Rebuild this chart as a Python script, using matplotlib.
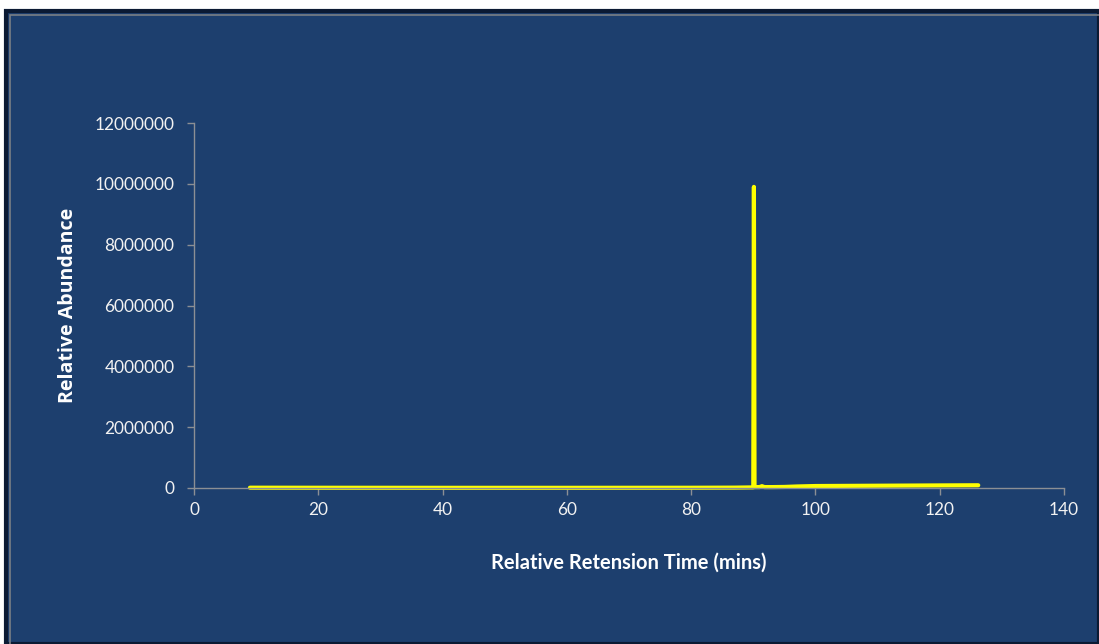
import matplotlib
matplotlib.use("Agg")
import matplotlib.pyplot as plt
from matplotlib.patches import Rectangle

# Retention time (mins) and relative abundance
retention_time = [9.0, 20.0, 40.0, 60.0, 80.0, 87.0, 90.0, 90.1, 90.2, 91.0,
                  91.4, 91.8, 93.0, 95.0, 97.0, 100.0, 105.0, 110.0, 115.0, 120.0, 126.2]
abundance = [10000, 8000, 6000, 6000, 8000, 12000, 20000, 9900000, 30000, 30000,
             60000, 30000, 30000, 35000, 50000, 65000, 70000, 75000, 80000, 85000, 90000]

x_ticks = [0, 20, 40, 60, 80, 100, 120, 140]
y_ticks = [0, 2000000, 4000000, 6000000, 8000000, 10000000, 12000000]

BG = "#1d3f6e"
W, H = 1099, 644

plt.rcParams["font.family"] = ["Lato", "DejaVu Sans"]

fig = plt.figure(figsize=(W / 100, H / 100), dpi=100, facecolor="white")

# Panel background with dark frame and thin grey inner edge
fig.patches.append(Rectangle((6 / W, 0), (W - 6) / W, (H - 11) / H,
                             transform=fig.transFigure, facecolor=BG,
                             edgecolor="#0b1a33", linewidth=3, zorder=-10))
fig.patches.append(Rectangle((10 / W, -0.01), (W - 8) / W, (H - 15) / H + 0.01,
                             transform=fig.transFigure, facecolor="none",
                             edgecolor="#7a7f86", linewidth=1.2, zorder=-9))

ax = fig.add_axes([194 / W, (H - 488) / H, (1064 - 194) / W, (488 - 123) / H])
ax.set_zorder(5)
ax.patch.set_alpha(0)

ax.plot(retention_time, abundance, color="#ffff00", linewidth=3.0,
        solid_capstyle="round", solid_joinstyle="round", clip_on=False)

ax.set_xlim(0, 140)
ax.set_ylim(0, 12000000)
ax.set_xticks(x_ticks)
ax.set_yticks(y_ticks)
ax.set_xticklabels([str(v) for v in x_ticks])
ax.set_yticklabels([str(v) for v in y_ticks])

for side in ("top", "right"):
    ax.spines[side].set_visible(False)
for side in ("left", "bottom"):
    ax.spines[side].set_color("#8c8f94")
    ax.spines[side].set_linewidth(1.0)

ax.tick_params(axis="both", colors="#8c8f94", direction="out", length=5, width=1.0,
               labelcolor="#f2f2f2", labelsize=12.4)
ax.tick_params(axis="x", pad=5)
ax.tick_params(axis="y", pad=9)

ax.set_xlabel("Relative Retension Time (mins)", color="white", fontsize=14.5,
              fontweight="bold", labelpad=25)
ax.set_ylabel("Relative Abundance", color="white", fontsize=14.1,
              fontweight="bold", family=["Open Sans", "DejaVu Sans"], labelpad=12)

fig.savefig("out.png", dpi=100, facecolor=fig.get_facecolor())
